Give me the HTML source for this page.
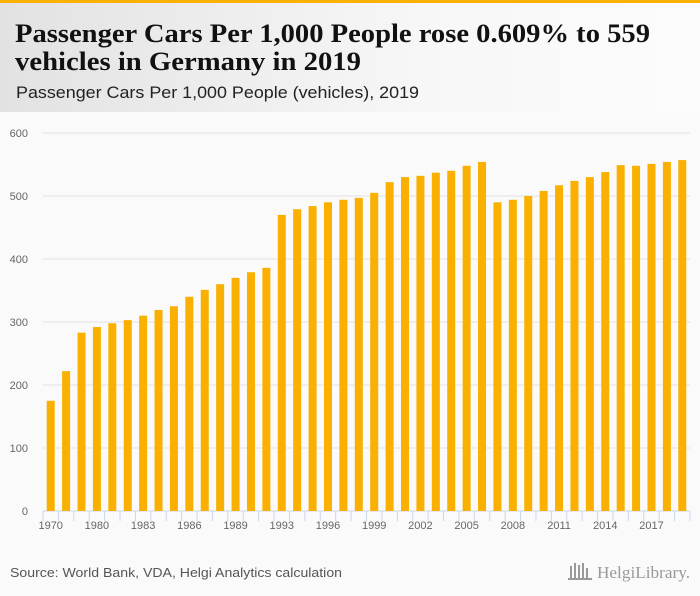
<!DOCTYPE html>
<html><head><meta charset="utf-8">
<style>
html,body{margin:0;padding:0;background:#fafafa;}
svg{display:block;}
</style></head>
<body>
<svg id="chart" width="700" height="596" xmlns="http://www.w3.org/2000/svg">
<defs>
<linearGradient id="hg" x1="0" x2="1" y1="0" y2="0">
<stop offset="0" stop-color="#e2e2e2"/><stop offset="0.6" stop-color="#f7f7f7"/><stop offset="1" stop-color="#fcfcfc"/>
</linearGradient>
</defs>
<rect width="700" height="596" fill="#fafafa"/>
<rect x="0" y="0" width="700" height="112" fill="url(#hg)"/>
<rect x="0" y="0" width="700" height="3" fill="#f9b000"/>
<text font-family="Liberation Serif, serif" font-weight="bold" font-size="26" fill="#111">
<tspan x="15" y="42" textLength="635" lengthAdjust="spacingAndGlyphs">Passenger Cars Per 1,000 People rose 0.609% to 559</tspan>
<tspan x="15" y="70" textLength="346" lengthAdjust="spacingAndGlyphs">vehicles in Germany in 2019</tspan>
</text>
<text x="16" y="98" font-family="Liberation Sans, sans-serif" font-size="17" fill="#222" textLength="403" lengthAdjust="spacingAndGlyphs">Passenger Cars Per 1,000 People (vehicles), 2019</text>
<g id="grid"></g>
<g id="bars"></g>
<g id="xaxis"></g>
<text x="10" y="577" font-family="Liberation Sans, sans-serif" font-size="13" fill="#555" textLength="332" lengthAdjust="spacingAndGlyphs">Source: World Bank, VDA, Helgi Analytics calculation</text>
<g>
<g fill="#999">
<rect x="570" y="566" width="2" height="12"/><rect x="574" y="563" width="2" height="15"/><rect x="578" y="565" width="2" height="13"/><rect x="582" y="563" width="2" height="15"/><rect x="586" y="568" width="2" height="10"/>
<rect x="568" y="578" width="24" height="2"/>
</g>
<text x="597" y="578" font-family="Liberation Serif, serif" font-size="17" fill="#999" textLength="93" lengthAdjust="spacingAndGlyphs">HelgiLibrary.</text>
</g>
</svg>
<script>
const categories = ["1970","1975","1978","1980","1981","1982","1983","1984","1985","1986","1987","1988","1989","1990","1991","1993","1994","1995","1996","1997","1998","1999","2000","2001","2002","2003","2004","2005","2006","2007","2008","2009","2010","2011","2012","2013","2014","2015","2016","2017","2018","2019"];
const values = [175,222,283,292,298,303,310,319,325,340,351,360,370,379,386,470,479,484,490,494,497,505,522,530,532,537,540,548,554,490,494,500,508,517,524,530,538,549,548,551,554,557];
const yTicks = [0,100,200,300,400,500,600];

const NS = "http://www.w3.org/2000/svg";
const x0 = 43, x1 = 690, yBase = 511, yTop = 133, yMax = 600;
const band = (x1 - x0) / categories.length;
const yScale = v => yBase - (v / yMax) * (yBase - yTop);
const xCenter = i => x0 + band * (i + 0.5);

const grid = document.getElementById('grid');
yTicks.forEach(t => {
  const y = yScale(t);
  const ln = document.createElementNS(NS, 'line');
  
  
  ln.setAttribute('x1', x0); ln.setAttribute('x2', x1);
  ln.setAttribute('y1', y); ln.setAttribute('y2', y);
  ln.setAttribute('stroke', t === 0 ? '#ccd6eb' : '#e3e3e3');
  ln.setAttribute('stroke-width', 1);
  grid.appendChild(ln);
  const tx = document.createElementNS(NS, 'text');
  
  
  tx.setAttribute('x', 28); tx.setAttribute('y', y + 4);
  tx.setAttribute('text-anchor', 'end');
  tx.setAttribute('font-family', 'Liberation Sans, sans-serif');
  tx.setAttribute('font-size', '11');
  tx.setAttribute('fill', '#666');
  tx.textContent = t;
  grid.appendChild(tx);
});

const bars = document.getElementById('bars');
values.forEach((v, i) => {
  const r = document.createElementNS(NS, 'rect');
  
  
  const y = yScale(v);
  r.setAttribute('x', xCenter(i) - 4);
  r.setAttribute('y', y);
  r.setAttribute('width', 8);
  r.setAttribute('height', yBase - y);
  r.setAttribute('fill', '#f9b000');
  bars.appendChild(r);
});

const xa = document.getElementById('xaxis');
for (let i = 0; i <= categories.length; i++) {
  const tk = document.createElementNS(NS, 'line');
  
  
  const x = x0 + band * i;
  tk.setAttribute('x1', x); tk.setAttribute('x2', x);
  tk.setAttribute('y1', yBase); tk.setAttribute('y2', yBase + 10);
  tk.setAttribute('stroke', '#ccd6eb');
  xa.appendChild(tk);
}
categories.forEach((c, i) => {
  if (i % 3 !== 0) return;
  const tx = document.createElementNS(NS, 'text');
  
  
  tx.setAttribute('x', xCenter(i));
  tx.setAttribute('y', yBase + 18);
  tx.setAttribute('text-anchor', 'middle');
  tx.setAttribute('font-family', 'Liberation Sans, sans-serif');
  tx.setAttribute('font-size', '11');
  tx.setAttribute('fill', '#666');
  tx.textContent = c;
  xa.appendChild(tx);
});
</script>
</body></html>
